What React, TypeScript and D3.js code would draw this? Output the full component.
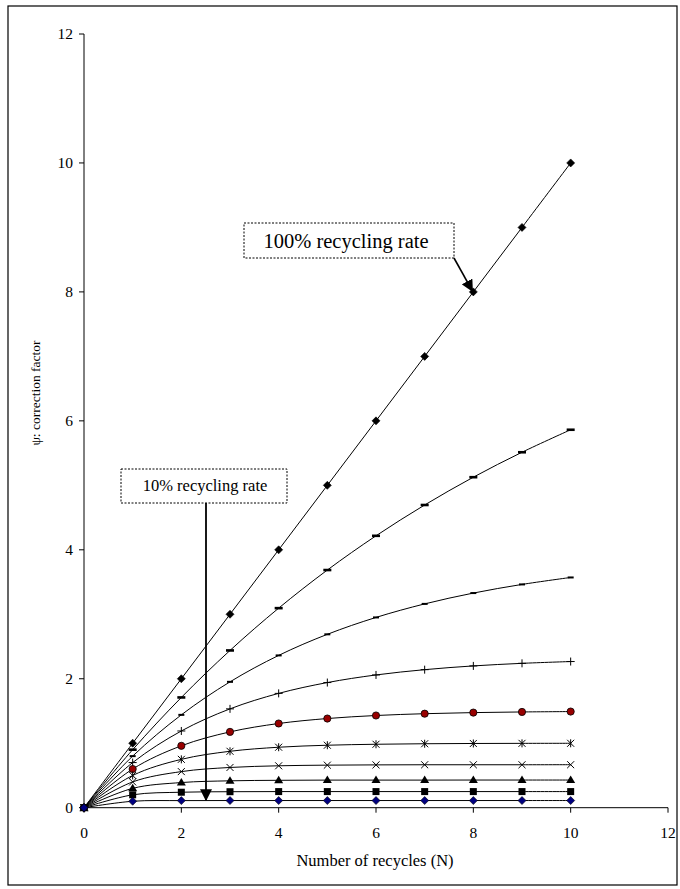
import React from "react";
import * as d3 from "d3";

const N = [0, 1, 2, 3, 4, 5, 6, 7, 8, 9, 10];
const rate100 = [0, 1, 2, 3, 4, 5, 6, 7, 8, 9, 10];
const rate90 = [0, 0.9, 1.71, 2.439, 3.095, 3.686, 4.217, 4.695, 5.126, 5.513, 5.862];
const rate80 = [0, 0.8, 1.44, 1.952, 2.362, 2.689, 2.951, 3.161, 3.329, 3.463, 3.571];
const rate70 = [0, 0.7, 1.19, 1.533, 1.773, 1.941, 2.059, 2.141, 2.199, 2.239, 2.267];
const rate60 = [0, 0.6, 0.96, 1.176, 1.306, 1.383, 1.43, 1.458, 1.475, 1.485, 1.491];
const rate50 = [0, 0.5, 0.75, 0.875, 0.938, 0.969, 0.984, 0.992, 0.996, 0.998, 0.999];
const rate40 = [0, 0.4, 0.56, 0.624, 0.65, 0.66, 0.664, 0.666, 0.666, 0.666, 0.667];
const rate30 = [0, 0.3, 0.39, 0.417, 0.425, 0.428, 0.428, 0.428, 0.429, 0.429, 0.429];
const rate20 = [0, 0.2, 0.24, 0.248, 0.25, 0.25, 0.25, 0.25, 0.25, 0.25, 0.25];
const rate10 = [0, 0.1, 0.11, 0.111, 0.111, 0.111, 0.111, 0.111, 0.111, 0.111, 0.111];

const xTicks = [0, 2, 4, 6, 8, 10, 12];
const yTicks = [0, 2, 4, 6, 8, 10, 12];

const series = [
  { name: "100%", values: rate100, marker: "diamond", fill: "#000" },
  { name: "90%", values: rate90, marker: "longdash", fill: "#000" },
  { name: "80%", values: rate80, marker: "shortdash", fill: "#000" },
  { name: "70%", values: rate70, marker: "plus", fill: "#000" },
  { name: "60%", values: rate60, marker: "circle", fill: "#990000" },
  { name: "50%", values: rate50, marker: "star", fill: "#000" },
  { name: "40%", values: rate40, marker: "x", fill: "#000" },
  { name: "30%", values: rate30, marker: "triangle", fill: "#000" },
  { name: "20%", values: rate20, marker: "square", fill: "#000" },
  { name: "10%", values: rate10, marker: "diamond", fill: "#000080" },
];

const font = "'Liberation Serif', 'Times New Roman', serif";

function Marker({ type, x, y, fill }: { type: string; x: number; y: number; fill: string }) {
  switch (type) {
    case "diamond":
      return <path d={`M${x},${y - 4}L${x + 4},${y}L${x},${y + 4}L${x - 4},${y}Z`} fill={fill} stroke="#000" strokeWidth={0.6} />;
    case "longdash":
      return <rect x={x - 4} y={y - 1.3} width={8} height={2.6} fill="#000" />;
    case "shortdash":
      return <rect x={x - 3} y={y - 1} width={6} height={2} fill="#000" />;
    case "plus":
      return <path d={`M${x - 4},${y}H${x + 4}M${x},${y - 4}V${y + 4}`} stroke="#000" strokeWidth={1} />;
    case "circle":
      return <circle cx={x} cy={y} r={3.6} fill={fill} stroke="#000" strokeWidth={0.8} />;
    case "star":
      return <path d={`M${x - 3.5},${y - 3.5}L${x + 3.5},${y + 3.5}M${x - 3.5},${y + 3.5}L${x + 3.5},${y - 3.5}M${x},${y - 4}V${y + 4}`} stroke="#000" strokeWidth={1} />;
    case "x":
      return <path d={`M${x - 3.5},${y - 3.5}L${x + 3.5},${y + 3.5}M${x - 3.5},${y + 3.5}L${x + 3.5},${y - 3.5}`} stroke="#000" strokeWidth={1} />;
    case "triangle":
      return <path d={`M${x},${y - 4.5}L${x + 4.5},${y + 3}L${x - 4.5},${y + 3}Z`} fill="#000" />;
    case "square":
      return <rect x={x - 3.5} y={y - 3.5} width={7} height={7} fill="#000" />;
    default:
      return null;
  }
}

export default function App() {
  const W = 680, H = 889;
  const x = d3.scaleLinear().domain([0, 12]).range([84, 668]);
  const y = d3.scaleLinear().domain([0, 12]).range([807.7, 34]);
  const line = d3
    .line<number>()
    .x((_, i) => x(N[i]))
    .y((d) => y(d))
    .curve(d3.curveCatmullRom.alpha(0.5));

  const p8 = { x: x(8), y: y(8) };
  const arrowX = 206;

  return (
    <svg width={W} height={H} style={{ position: "absolute", left: 0, top: 0 }}>
      <defs>
        <marker id="ah" viewBox="0 0 10 10" refX="9" refY="5" markerUnits="userSpaceOnUse" markerWidth="12" markerHeight="12" orient="auto">
          <path d="M0,0L10,5L0,10Z" fill="#000" />
        </marker>
      </defs>
      <rect x={0} y={0} width={W} height={H} fill="#fff" />
      <rect x={8} y={6} width={669} height={879} fill="none" stroke="#000" strokeWidth={1.2} />

      {/* axes */}
      <line x1={x(0)} x2={x(0)} y1={y(0)} y2={y(12)} stroke="#000" strokeWidth={1} />
      {yTicks.map((t) => (
        <g key={"y" + t}>
          <line x1={x(0) - 5} x2={x(0)} y1={y(t)} y2={y(t)} stroke="#000" />
          <text x={x(0) - 11} y={y(t)} dy="0.35em" textAnchor="end" fontFamily={font} fontSize={15.5}>
            {t}
          </text>
        </g>
      ))}
      <line x1={x(0)} x2={x(12)} y1={y(0)} y2={y(0)} stroke="#000" strokeWidth={1} />
      {xTicks.map((t) => (
        <g key={"x" + t}>
          <line x1={x(t)} x2={x(t)} y1={y(0)} y2={y(0) + 5} stroke="#000" />
          <text x={x(t)} y={y(0) + 30} textAnchor="middle" fontFamily={font} fontSize={15.5}>
            {t}
          </text>
        </g>
      ))}
      <text x={375} y={866} textAnchor="middle" fontFamily={font} fontSize={16.5}>
        Number of recycles (N)
      </text>
      <text
        transform={`translate(40,393) rotate(-90)`}
        textAnchor="middle"
        fontFamily={font}
        fontSize={13.5}
      >
        ψ: correction factor
      </text>

      {/* series */}
      {series.map((s) => (
        <g key={s.name}>
          <path d={line(s.values) || ""} fill="none" stroke="#000" strokeWidth={1} />
          {s.values.map((v, i) => (
            <Marker key={i} type={s.marker} x={x(N[i])} y={y(v)} fill={s.fill} />
          ))}
        </g>
      ))}

      {/* annotations */}
      <rect x={244} y={223} width={210} height={35} fill="#fff" stroke="#000" strokeWidth={1} strokeDasharray="2,1.5" />
      <text x={346} y={248} textAnchor="middle" fontFamily={font} fontSize={20.5}>
        100% recycling rate
      </text>
      <line x1={454} y1={258} x2={p8.x - 1} y2={p8.y - 1} stroke="#000" strokeWidth={1.6} markerEnd="url(#ah)" />

      <rect x={121} y={469} width={166} height={34} fill="#fff" stroke="#000" strokeWidth={1} strokeDasharray="2,1.5" />
      <text x={205} y={491} textAnchor="middle" fontFamily={font} fontSize={16.5}>
        10% recycling rate
      </text>
      <line x1={arrowX} y1={503} x2={arrowX} y2={800} stroke="#000" strokeWidth={1.8} markerEnd="url(#ah)" />
    </svg>
  );
}
